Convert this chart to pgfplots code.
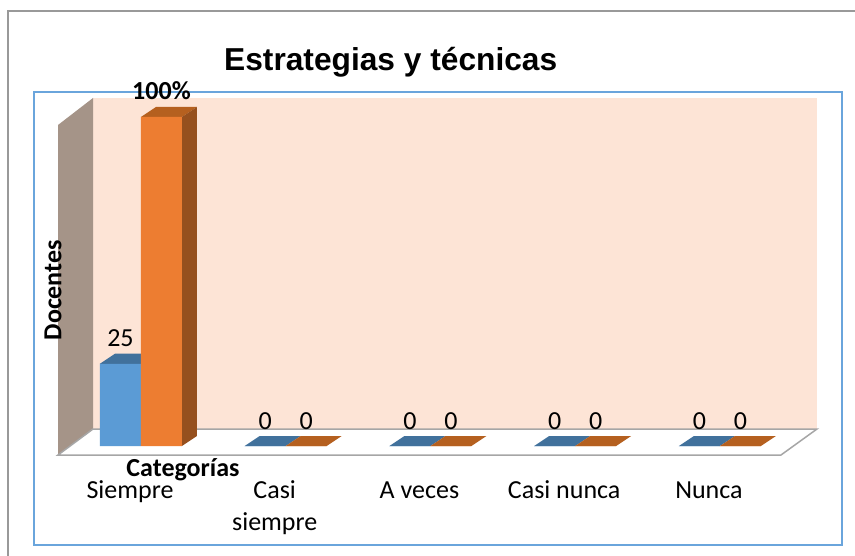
\documentclass[border=0pt]{standalone}
\usepackage{pgfplots}
\usepackage{fontspec}
\setmainfont{Carlito}
\newfontfamily\titlefont{Liberation Sans}
\pgfplotsset{compat=1.18}
\definecolor{barblue}{HTML}{5B9BD5}
\definecolor{bluetop}{HTML}{41719C}
\definecolor{barorange}{HTML}{ED7D31}
\definecolor{orangetop}{HTML}{B5601F}
\definecolor{orangeside}{HTML}{96501E}
\definecolor{wallback}{HTML}{FDE4D6}
\definecolor{wallleft}{HTML}{A59488}
\definecolor{floorline}{HTML}{A6A6A6}
\definecolor{frameblue}{HTML}{6AA5DC}
\definecolor{framegray}{HTML}{999999}
\newcommand{\lbl}{\fontsize{26}{32}\selectfont}
\newcommand{\tall}{\rule{0pt}{18pt}}
\pgfplotsset{
  flat/.style={fill=#1,draw=none,forget plot,sharp plot,mark=none},
}
\begin{document}
\begin{tikzpicture}
\useasboundingbox (0,0) rectangle (855pt,556pt);
% frames, walls and floor, in picture pixels
\begin{axis}[
    scale only axis,width=855pt,height=556pt,
    xmin=0,xmax=855,ymin=0,ymax=556,y dir=reverse,
    hide axis,clip=false,
    ]
\addplot[framegray,line width=1.5pt,mark=none] coordinates {(8,556) (8,11) (855,11)};
\addplot[frameblue,line width=1.5pt,mark=none] coordinates {(34,92) (842,92) (842,545) (34,545)} -- cycle;
\addplot[flat=wallback] coordinates {(93,98) (817,98) (817,429) (93,429)} -- cycle;
\addplot[flat=wallleft] coordinates {(58,125) (93,98) (93,429) (58,455)} -- cycle;
\addplot[fill=white,draw=floorline,line width=1.5pt,mark=none] coordinates {(58,455) (93,429) (817,429) (781,455)} -- cycle;
\end{axis}
% bars: one x unit is one category, y is the value
\begin{axis}[
    scale only axis,width=855pt,height=556pt,
    xmin=-0.974,xmax=4.933,ymin=-33.43,ymax=135.56,
    axis line style={draw=none},tick style={draw=none},
    xtick={0,1,2,3,4},
    xticklabels={\tall Siempre,{\tall Casi\\siempre},\tall A veces,\tall Casi nunca,\tall Nunca},
    ytick=\empty,
    x tick label style={align=center,font=\lbl,anchor=north,xshift=-11pt,yshift=79pt},
    title={\titlefont\bfseries\fontsize{31.7}{38}\selectfont Estrategias y técnicas},
    title style={at={(axis description cs:0.457,0.862)},anchor=base},
    xlabel={\textbf{Categorías}},
    xlabel style={at={(axis description cs:0.214,0.1425)},anchor=base,font=\lbl},
    ylabel={\textbf{Docentes}},
    ylabel style={at={(axis description cs:0.062,0.478)},anchor=center,font=\lbl},
    point meta=explicit symbolic,
    every node near coord/.append style={font=\lbl,anchor=base,yshift=17pt,text=black},
    ]
% top faces of the blue bars
\addplot[flat=bluetop] coordinates {(-0.2832,25) (0,25) (0.1036,28.04) (-0.1796,28.04)} -- cycle;
\addplot[flat=bluetop] coordinates {(0.7168,0) (1,0) (1.1036,3.04) (0.8204,3.04)} -- cycle;
\addplot[flat=bluetop] coordinates {(1.7168,0) (2,0) (2.1036,3.04) (1.8204,3.04)} -- cycle;
\addplot[flat=bluetop] coordinates {(2.7168,0) (3,0) (3.1036,3.04) (2.8204,3.04)} -- cycle;
\addplot[flat=bluetop] coordinates {(3.7168,0) (4,0) (4.1036,3.04) (3.8204,3.04)} -- cycle;
% top and side faces of the orange bars
\addplot[flat=orangetop] coordinates {(0,100) (0.2832,100) (0.3868,103.04) (0.1036,103.04)} -- cycle;
\addplot[flat=orangeside] coordinates {(0.2832,0) (0.3868,3.04) (0.3868,103.04) (0.2832,100)} -- cycle;
\addplot[flat=orangetop] coordinates {(1,0) (1.2832,0) (1.3868,3.04) (1.1036,3.04)} -- cycle;
\addplot[flat=orangetop] coordinates {(2,0) (2.2832,0) (2.3868,3.04) (2.1036,3.04)} -- cycle;
\addplot[flat=orangetop] coordinates {(3,0) (3.2832,0) (3.3868,3.04) (3.1036,3.04)} -- cycle;
\addplot[flat=orangetop] coordinates {(4,0) (4.2832,0) (4.3868,3.04) (4.1036,3.04)} -- cycle;
% front faces
\addplot[ybar,bar width=41pt,bar shift=-20.5pt,fill=barblue,draw=none,nodes near coords,
    every node near coord/.append style={xshift=-20.5pt}]
  coordinates {(0,25) [25] (1,0) [0] (2,0) [0] (3,0) [0] (4,0) [0]};
\addplot[ybar,bar width=41pt,bar shift=20.5pt,fill=barorange,draw=none,nodes near coords,
    every node near coord/.append style={xshift=20.5pt}]
  coordinates {(0,100) [\textbf{100\%}] (1,0) [0] (2,0) [0] (3,0) [0] (4,0) [0]};
\end{axis}
\end{tikzpicture}
\end{document}
